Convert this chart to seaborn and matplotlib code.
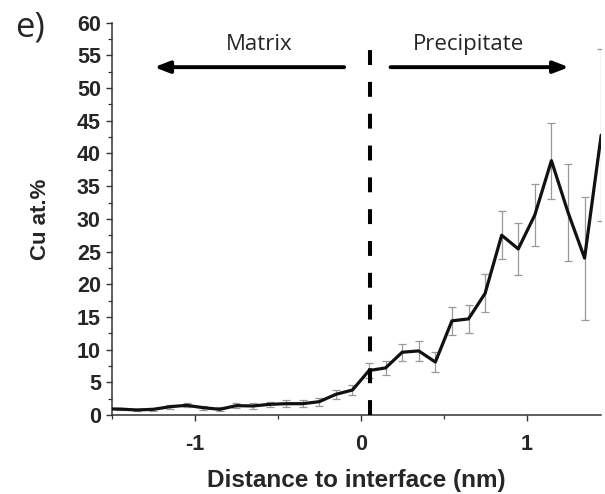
import matplotlib
matplotlib.use("Agg")
import matplotlib.pyplot as plt
from matplotlib.ticker import MultipleLocator
import seaborn as sns
import pandas as pd

distance = [-1.55, -1.45, -1.35, -1.25, -1.15, -1.05, -0.95, -0.85, -0.75, -0.65, -0.55,
            -0.45, -0.35, -0.25, -0.15, -0.05, 0.05, 0.15, 0.25, 0.35, 0.45,
            0.55, 0.65, 0.75, 0.85, 0.95, 1.05, 1.15, 1.25, 1.35, 1.45]
cu = [0.95, 0.9, 0.77, 0.87, 1.27, 1.48, 1.12, 0.87, 1.43, 1.38, 1.63,
      1.73, 1.73, 2.04, 3.16, 3.82, 6.8, 7.2, 9.6, 9.8, 8.1,
      14.4, 14.7, 18.6, 27.5, 25.4, 30.6, 38.9, 31.0, 24.0, 42.8]
cu_err = [0.2, 0.2, 0.2, 0.2, 0.3, 0.3, 0.3, 0.3, 0.4, 0.4, 0.4,
          0.5, 0.5, 0.6, 0.7, 0.8, 1.1, 1.1, 1.3, 1.5, 1.5,
          2.1, 2.2, 2.9, 3.7, 4.0, 4.75, 5.8, 7.4, 9.4, 13.2]
interface_x = 0.056
region_labels = ["Matrix", "Precipitate"]
panel_label = "e)"

df = pd.DataFrame({"distance": distance, "cu": cu, "err": cu_err})

sns.set_style("ticks")
plt.rcParams['font.family'] = ['Liberation Sans', 'DejaVu Sans']
plt.rcParams['axes.unicode_minus'] = False

fig = plt.figure(figsize=(6.05, 4.94), dpi=100)
ax = fig.add_axes([112/605, 1-415/494, (601-112)/605, (415-22.7)/494])

ax.errorbar(df["distance"], df["cu"], yerr=df["err"], fmt="none",
            ecolor="#999999", elinewidth=0.9, capsize=3, capthick=0.9, zorder=2)
sns.lineplot(data=df, x="distance", y="cu", ax=ax, color="#111111",
             linewidth=2.3, zorder=3, estimator=None)

ax.axvline(interface_x, ymin=0, ymax=58.2/60, color="black", linewidth=2.9,
           linestyle=(0, (3.7, 4.2)), zorder=4)

ax.set_xlim(-1.5, 1.449)
ax.set_ylim(0, 60)
ax.yaxis.set_major_locator(MultipleLocator(5))
ax.yaxis.set_minor_locator(MultipleLocator(2.5))
ax.xaxis.set_major_locator(MultipleLocator(1))
ax.xaxis.set_minor_locator(MultipleLocator(0.5))

for s in ["top", "right"]:
    ax.spines[s].set_visible(False)
for s in ["left", "bottom"]:
    ax.spines[s].set_linewidth(1.1)
    ax.spines[s].set_color("#333333")

ax.tick_params(axis="both", which="major", length=4, width=1.0, color="#333333",
               labelsize=15.5)
ax.tick_params(axis="both", which="minor", length=3, width=0.9, color="#333333")
ax.tick_params(axis="y", which="major", pad=4)
ax.tick_params(axis="x", which="major", pad=10)
for lab in ax.get_xticklabels() + ax.get_yticklabels():
    lab.set_fontweight("bold")

ax.set_xlabel("Distance to interface (nm)", fontsize=17.5, fontweight="bold", labelpad=10)
ax.set_ylabel("Cu at.%", fontsize=16, fontweight="bold", labelpad=19)

txt_font = ['Open Sans', 'DejaVu Sans']
ax.text(-0.61, 56.6, region_labels[0], ha="center", va="center", fontsize=16,
        family=txt_font)
ax.text(0.65, 56.6, region_labels[1], ha="center", va="center", fontsize=16,
        family=txt_font)
arrow_kw = dict(arrowstyle="-|>,head_length=0.9,head_width=0.35", color="black",
                linewidth=2.8, shrinkA=0, shrinkB=0)
ax.annotate("", xy=(-1.245, 53.2), xytext=(-0.10, 53.2), arrowprops=arrow_kw)
ax.annotate("", xy=(1.255, 53.2), xytext=(0.18, 53.2), arrowprops=arrow_kw)

fig.text(15/605, 1-28/494, panel_label, fontsize=25, family=txt_font,
         ha="left", va="center")

fig.savefig("out.png", dpi=100)
